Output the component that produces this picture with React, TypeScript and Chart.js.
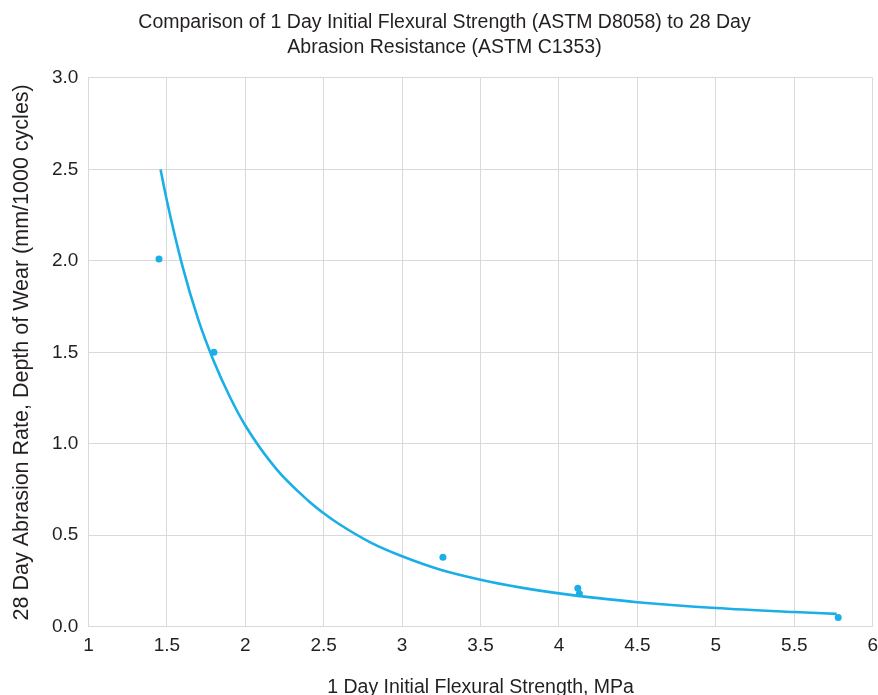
import React, { useEffect, useRef } from "react";
import { Chart, registerables } from "chart.js";

Chart.register(...registerables);

const TITLE_LINES = [
  "Comparison of 1 Day Initial Flexural Strength (ASTM D8058) to 28 Day",
  "Abrasion Resistance (ASTM C1353)",
];
const X_TITLE = "1 Day Initial Flexural Strength, MPa";
const Y_TITLE = "28 Day Abrasion Rate, Depth of Wear (mm/1000 cycles)";

// measured points
const POINT_X = [1.45, 1.8, 3.26, 4.12, 4.13, 5.78];
const POINT_Y = [2.01, 1.5, 0.38, 0.21, 0.18, 0.05];

// trend curve
const CURVE_X = [1.46, 1.5, 1.6, 1.7, 1.8, 1.9, 2.0, 2.2, 2.4, 2.5, 2.6, 2.8, 3.0, 3.25, 3.5, 3.75, 4.0, 4.25, 4.5, 5.0, 5.5, 5.77];
const CURVE_Y = [2.5, 2.33, 1.97, 1.68, 1.45, 1.26, 1.1, 0.86, 0.69, 0.62, 0.56, 0.46, 0.385, 0.31, 0.257, 0.215, 0.182, 0.156, 0.134, 0.102, 0.08, 0.07];

const BLUE = "#1AAFE6";
const GRID = "#d9d9d9";
const TEXT = "#231f20";
const FONT = "'Liberation Sans', Arial, sans-serif";

export default function App() {
  const ref = useRef<HTMLCanvasElement | null>(null);
  useEffect(() => {
    document.body.style.margin = "0";
    const ctx = ref.current!;
    const chart = new Chart(ctx, {
      type: "scatter",
      data: {
        datasets: [
          {
            label: "Trend",
            data: CURVE_X.map((x, i) => ({ x, y: CURVE_Y[i] })),
            showLine: true,
            borderColor: BLUE,
            borderWidth: 2.6,
            pointRadius: 0,
            cubicInterpolationMode: "monotone",
            fill: false,
          },
          {
            label: "Data",
            data: POINT_X.map((x, i) => ({ x, y: POINT_Y[i] })),
            backgroundColor: BLUE,
            borderColor: BLUE,
            pointRadius: 3.5,
            pointBorderWidth: 0,
          },
        ],
      },
      options: {
        animation: false,
        responsive: false,
        layout: { padding: { left: 11, right: 0, top: 0, bottom: -2 } },
        plugins: {
          legend: { display: false },
          tooltip: { enabled: false },
          title: {
            display: true,
            text: TITLE_LINES,
            color: TEXT,
            font: { family: FONT, size: 19.5, weight: "normal", lineHeight: 1.28 },
            padding: { top: 10, bottom: 18 },
          },
        },
        scales: {
          x: {
            type: "linear",
            min: 1,
            max: 6,
            ticks: {
              stepSize: 0.5,
              color: TEXT,
              font: { family: FONT, size: 19 },
              padding: 0,
              callback: (v: any) => String(v),
            },
            grid: { color: GRID, drawTicks: true, tickLength: 8, tickColor: "rgba(0,0,0,0)", lineWidth: 1 },
            border: { color: GRID },
            title: {
              display: true,
              text: X_TITLE,
              color: TEXT,
              font: { family: FONT, size: 19.5, lineHeight: 1 },
              padding: { top: 20, bottom: 0 },
            },
          },
          y: {
            type: "linear",
            min: 0,
            max: 3,
            ticks: {
              stepSize: 0.5,
              color: TEXT,
              font: { family: FONT, size: 19 },
              padding: 10,
              callback: (v: any) => Number(v).toFixed(1),
            },
            grid: { color: GRID, drawTicks: false, lineWidth: 1 },
            border: { color: GRID },
            title: {
              display: true,
              text: Y_TITLE,
              color: TEXT,
              font: { family: FONT, size: 21.5, lineHeight: 1 },
              padding: { top: 0, bottom: 9.5 },
            },
          },
        },
      },
    });
    return () => chart.destroy();
  }, []);
  return <canvas ref={ref} width={878} height={695} style={{ display: "block" }} />;
}
